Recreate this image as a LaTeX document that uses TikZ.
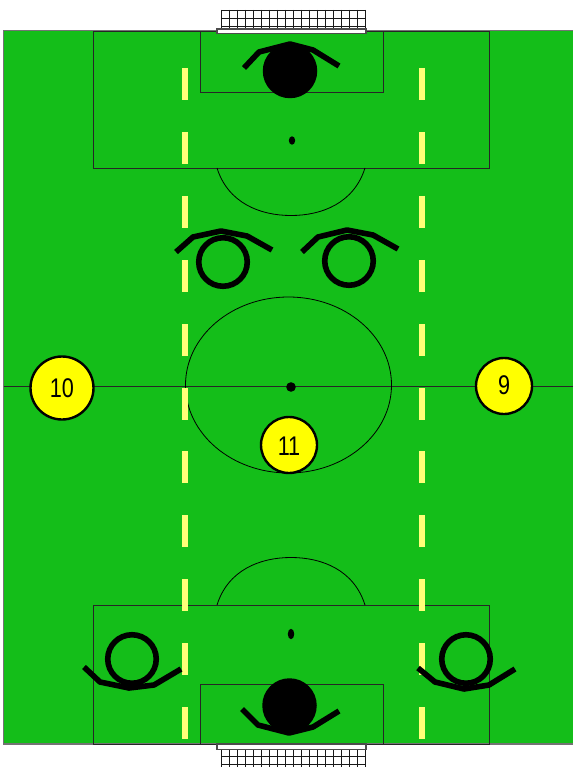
\documentclass[tikz,border=0pt]{standalone}
\usepackage{fontspec}
\setmainfont{Liberation Sans}
\definecolor{pitch}{RGB}{20,190,25}
\definecolor{dashy}{RGB}{255,255,120}
\definecolor{tokenfill}{RGB}{255,255,0}
\tikzset{
  marking/.style={draw=black!85,line width=0.95pt},
  thin marking/.style={draw=black,line width=0.8pt},
  limb/.style={draw=black,line width=5.6pt,line join=round},
  ring/.style={circle,draw=black,line width=5.6pt,inner sep=0pt,minimum size=48.5pt},
  keeper/.style={circle,fill=black,inner sep=0pt,minimum size=54.5pt},
  lane/.style={draw=dashy,line width=5.8pt},
  token/.style={circle,fill=tokenfill,draw=black,line width=2.4pt,inner sep=0pt},
  digits/.style={font=\fontsize{27}{27}\selectfont,xscale=.8},
  netline/.style={draw=black!90,line width=0.85pt},
}
\begin{document}
\begin{tikzpicture}[x=1pt,y=-1pt]
\useasboundingbox (0,0) rectangle (573,767);
% field
\fill[pitch] (3.5,30.5) rectangle (573,744);
\draw[draw=black!55,line width=1.2pt] (573,30.5) -- (3.5,30.5) -- (3.5,744) -- (573,744);
\draw[marking] (93,31) rectangle (489,168);
\draw[marking] (200,31) rectangle (383,92);
\draw[marking] (93,605) rectangle (489,744);
\draw[marking] (200,684) rectangle (383,744);
\draw[marking] (3.5,386.5) -- (573,386.5);
\draw[thin marking] (288.5,385) ellipse [x radius=103,y radius=88];
\draw[thin marking] (217,168) .. controls (228,203) and (260,215.5) .. (291,215.5) .. controls (322,215.5) and (354,203) .. (365,168);
\draw[thin marking] (217,605) .. controls (228,570) and (260,557.5) .. (291,557.5) .. controls (322,557.5) and (354,570) .. (365,605);
\fill (292,140.5) ellipse [x radius=3.2,y radius=4.2];
\fill (291,387) circle [radius=4.8];
\fill (291,634) ellipse [x radius=3.2,y radius=5.2];
% lanes
\foreach \y in {68,132,196,260,324,388,451,515,579,643,707}{
  \draw[lane] (185,\y) -- (185,\y+32);
  \draw[lane] (422,\y) -- (422,\y+32);
}
% nets
\fill[white] (221,10) rectangle (366,29);
\foreach \x in {221,229,...,365} \draw[netline] (\x,10) -- (\x,29);
\foreach \y in {10,18,26} \draw[netline] (221,\y) -- (366,\y);
\draw[draw=black!70,fill=white,line width=1.2pt] (217,29) rectangle (366,33.5);
\fill[white] (221,750) rectangle (366,767);
\foreach \x in {221,229,...,365} \draw[netline] (\x,750) -- (\x,767);
\foreach \y in {756,764} \draw[netline] (221,\y) -- (366,\y);
\draw[draw=black!70,fill=white,line width=1.2pt] (217,744) rectangle (366,749.5);
% players
\node[keeper] (gkTop) at (290,71) {};
\draw[limb] (244,68) -- (259,52) -- (290,44) -- (313,50) -- (339,66);
\node[ring] (defL) at (223,262) {};
\draw[limb] (176,252) -- (193,237) -- (221,231) -- (247,236) -- (272,250);
\node[ring] (defR) at (349,261) {};
\draw[limb] (302,252) -- (318,237) -- (347,230) -- (373,235) -- (398,249);
\node[ring] (backL) at (132,659) {};
\draw[limb] (84,667) -- (100,682) -- (129,688) -- (154,685) -- (181,669);
\node[ring] (backR) at (466,659) {};
\draw[limb] (418,668) -- (435,682) -- (464,689) -- (489,685) -- (515,669);
\node[keeper] (gkBot) at (289.5,705.5) {};
\draw[limb] (242,709) -- (258,725) -- (289,733) -- (313,727) -- (339,711);
% tokens
\node[token,minimum size=63pt] (p10) at (62,388) {};
\node[digits] (t10) at (62,388) {10};
\node[token,minimum size=56pt] (p9) at (504,386) {};
\node[digits] (t9) at (504,385) {9};
\node[token,minimum size=56pt] (p11) at (289,445) {};
\node[digits] (t11) at (289,446) {11};
\end{tikzpicture}
\end{document}
